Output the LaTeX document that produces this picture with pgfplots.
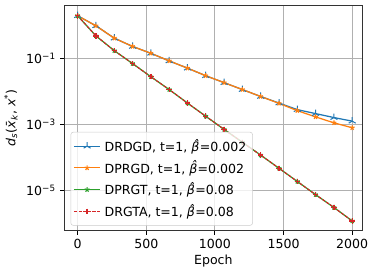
\documentclass[border=0pt]{standalone}
\usepackage{pgfplots}
\pgfplotsset{compat=1.18}
\usepackage{fontspec}
\setmainfont{DejaVu Sans}
\usetikzlibrary{plotmarks}
\definecolor{C0}{HTML}{1F77B4}
\definecolor{C1}{HTML}{FF7F0E}
\definecolor{C2}{HTML}{2CA02C}
\definecolor{C3}{HTML}{D62728}
\definecolor{gridgray}{HTML}{B0B0B0}
\begin{document}
\begin{tikzpicture}
\begin{axis}[
  scale only axis,
  width=237pt, height=179pt,
  ymode=log,
  xmin=-95, xmax=2072,
  ymin=6.0e-7, ymax=3.98,
  xtick={0,500,1000,1500,2000},
  ytick={1e-1,1e-3,1e-5},
  yticklabels={10\textsuperscript{−1},10\textsuperscript{−3},10\textsuperscript{−5}},
  minor ytick={},
  /pgf/number format/assume math mode=true,
  /pgf/number format/1000 sep={},
  xticklabel style={font=\fontsize{10}{12}\selectfont},
  yticklabel style={font=\fontsize{10}{12}\selectfont},
  tick align=outside,
  xtick pos=bottom, ytick pos=left,
  major tick length=3.5pt,
  every tick/.style={black, line width=0.8pt},
  axis line style={line width=0.8pt, black!80},
  grid=major,
  major grid style={gridgray, line width=0.8pt},
  xlabel={Epoch},
  ylabel={\textit{d}\textsubscript{\textit{s}}(\textit{\={x}}\textsubscript{\textit{k}}, \textit{x}\textsuperscript{*})},
  label style={font=\fontsize{10}{12}\selectfont},
  xlabel style={yshift=2pt},
  legend style={at={(0.02,0.022)}, anchor=south west, draw=gray!40, rounded corners=2pt, fill=white, fill opacity=0.8, text opacity=1, draw opacity=1, font=\fontsize{10}{12}\selectfont, row sep=0pt, inner xsep=2pt, inner ysep=2.5pt, nodes={inner xsep=3pt, inner ysep=3pt}},
  legend cell align=left,
  legend image code/.code={\draw[#1, mark repeat=2, mark phase=2, line width=0.9pt] plot coordinates {(0cm,0cm) (0.37cm,0cm) (0.74cm,0cm)};},
]
\addplot[C0, line width=1pt, mark=Mercedes star, mark size=3.2pt, mark options={solid, line width=0.8pt}] coordinates {
(0,2.0) (133,0.99) (267,0.417) (400,0.234) (533,0.145) (667,0.0851) (800,0.0513) (933,0.0302) (1067,0.0186) (1200,0.01148) (1333,0.00708) (1467,0.00447) (1600,0.00282) (1733,0.00214) (1867,0.00162) (2000,0.00126)};
\addlegendentry{DRDGD, t=1, \textit{β̂}=0.002}
\addplot[C1, line width=1pt, mark=star, mark size=2pt, mark options={solid, line width=0.9pt}] coordinates {
(0,2.0) (133,0.99) (267,0.417) (400,0.234) (533,0.145) (667,0.0851) (800,0.0513) (933,0.0302) (1067,0.0186) (1200,0.01148) (1333,0.00708) (1467,0.00437) (1600,0.00263) (1733,0.00170) (1867,0.00112) (2000,0.000794)};
\addlegendentry{DPRGD, t=1, \textit{β̂}=0.002}
\addplot[C2, line width=1pt, mark=star, mark size=2pt, mark options={solid, line width=0.9pt}] coordinates {
(0,2.0) (133,0.490) (267,0.174) (400,0.0708) (533,0.0282) (667,0.01148) (800,0.00447) (933,0.00178) (1067,7.08e-4) (1200,2.88e-4) (1333,1.175e-4) (1467,4.68e-5) (1600,1.86e-5) (1733,7.41e-6) (1867,3.02e-6) (2000,1.175e-6)};
\addlegendentry{DPRGT, t=1, \textit{β̂}=0.08}
\addplot[C3, line width=0.9pt, dash pattern=on 2.5pt off 1.2pt, mark=+, mark size=2.2pt, mark options={solid, line width=1.1pt}] coordinates {
(0,2.0) (133,0.490) (267,0.174) (400,0.0708) (533,0.0282) (667,0.01148) (800,0.00447) (933,0.00178) (1067,7.08e-4) (1200,2.88e-4) (1333,1.175e-4) (1467,4.68e-5) (1600,1.86e-5) (1733,7.41e-6) (1867,3.02e-6) (2000,1.175e-6)};
\addlegendentry{DRGTA, t=1, \textit{β̂}=0.08}
\end{axis}
\path (current axis.south west) ++(-48pt,-32pt);
\path (current axis.north east) ++(9.5pt,4.7pt);
\end{tikzpicture}
\end{document}
